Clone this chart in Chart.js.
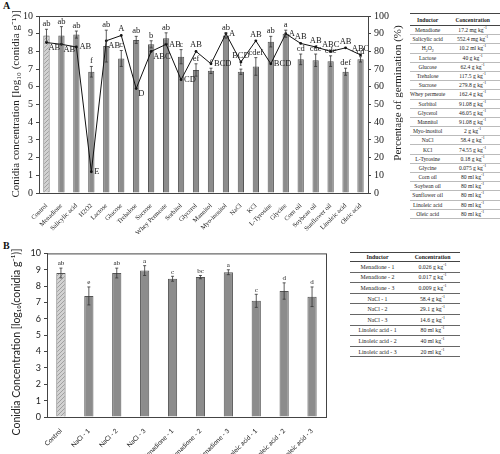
<!DOCTYPE html>
<html>
<head>
<meta charset="utf-8">
<script src="https://cdn.jsdelivr.net/npm/chart.js@4.4.0/dist/chart.umd.min.js"></script>
<style>
	html, body { margin: 0; padding: 0; background: #fff; }
	body { width: 500px; height: 454px; position: relative; overflow: hidden; }
	canvas { position: absolute; }
	#chart-a { left: 0; top: 0; }
	#chart-b { left: 0; top: 245px; }
	.panel { position: absolute; font: bold 10px "Liberation Serif"; color: #111; }
	table { position: absolute; border-collapse: collapse; font-family: "Liberation Serif"; color: #222; }
	td, th { padding: 0; text-align: center; white-space: nowrap; }
	sup, sub { font-size: 70%; line-height: 0; }
	#table-a { left: 410px; top: 13px; font-size: 5.6px; border-top: 1px solid #444; border-bottom: 1px solid #444; }
	#table-a th { height: 11px; border-bottom: 1px solid #444; }
	#table-a td { height: 8.2px; border-bottom: 0.5px solid #bbb; }
	#table-b { left: 350px; top: 252px; font-size: 5.8px; border-top: 1px solid #444; }
	#table-b th { height: 8px; border-bottom: 1px solid #444; }
	#table-b td { height: 9.6px; border-bottom: 1px solid #666; }
</style>
</head>
<body>
<div class="panel" style="left:3px;top:0px;">A</div>
<div class="panel" style="left:3px;top:240px;">B</div>
<canvas id="chart-a" width="410" height="245"></canvas>
<canvas id="chart-b" width="345" height="209"></canvas>
<table id="table-a"></table>
<table id="table-b"></table>

<script>
	//---------------------------------------------------------
	// Data - panel A
	//---------------------------------------------------------
	const CATEGORIES_A = ["Control", "Menadione", "Salicylic acid", "H2O2", "Lactose", "Glucose", "Trehalose", "Sucrose", "Whey Permeate", "Sorbitol", "Glycerol", "Mannitol", "Myo-inositol", "NaCl", "KCl", "L-Tyrosine", "Glycine", "Corn oil", "Soybean oil", "Sunflower oil", "Linoleic acid", "Oleic acid"];
	const CONIDIA_A = [8.9, 8.9, 8.95, 6.85, 8.3, 7.6, 8.65, 8.4, 8.75, 7.7, 6.95, 6.9, 8.9, 6.85, 7.15, 8.55, 9.0, 7.55, 7.5, 7.45, 6.85, 7.55];
	const CONIDIA_ERR_A = [0.35, 0.5, 0.2, 0.3, 0.9, 0.45, 0.2, 0.2, 0.3, 0.4, 0.35, 0.15, 0.15, 0.15, 0.5, 0.3, 0.2, 0.3, 0.35, 0.3, 0.2, 0.15];
	const LETTERS_A = ["ab", "ab", "ab", "f", "ab", "c", "ab", "b", "ab", "c", "ef", "f", "ab", "f", "cdef", "ab", "a", "cd", "cde", "cde", "def", "cd"];
	const GERMINATION_A = [85, 84, 82.5, 12, 86, 89, 59, 80, 84, 64, 80, 73, 90, 74, 86, 73, 90, 84.5, 82.5, 80, 82, 78];
	const GERM_LETTERS_A = ["AB", "AB", "AB", "E", "AB", "A", "D", "ABC", "AB", "CD", "AB", "BCD", "A", "BCD", "AB", "BCD", "A", "AB", "AB", "ABC", "AB", "ABC"];

	const INDUCTORS_A = ["Menadione", "Salicylic acid", "H<sub>2</sub>O<sub>2</sub>", "Lactose", "Glucose", "Trehalose", "Sucrose", "Whey permeate", "Sorbitol", "Glycerol", "Mannitol", "Myo-inositol", "NaCl", "KCl", "L-Tyrosine", "Glycine", "Corn oil", "Soybean oil", "Sunflower oil", "Linoleic acid", "Oleic acid"];
	const CONCENTRATIONS_A = ["17.2 mg kg", "552.4 mg kg", "10.2 ml kg", "40 g kg", "62.4 g kg", "117.5 g kg", "279.8 g kg", "162.4 g kg", "91.08 g kg", "46.05 g kg", "91.08 g kg", "2 g kg", "58.4 g kg", "74.55 g kg", "0.18 g kg", "0.075 g kg", "80 ml kg", "80 ml kg", "80 ml kg", "80 ml kg", "80 ml kg"];

	//---------------------------------------------------------
	// Data - panel B
	//---------------------------------------------------------
	const CATEGORIES_B = ["Control", "NaCl - 1", "NaCl - 2", "NaCl - 3", "Menadione - 1", "Menadione - 2", "Menadione - 3", "Linoleic acid - 1", "Linoleic acid - 2", "Linoleic acid - 3"];
	const CONIDIA_B = [8.8, 7.4, 8.8, 8.95, 8.45, 8.55, 8.85, 7.1, 7.7, 7.35];
	const CONIDIA_ERR_B = [0.3, 0.55, 0.3, 0.3, 0.15, 0.1, 0.15, 0.4, 0.5, 0.6];
	const LETTERS_B = ["ab", "e", "ab", "a", "c", "bc", "a", "c", "d", "d"];

	const INDUCTORS_B = ["Menadione - 1", "Menadione - 2", "Menadione - 3", "NaCl - 1", "NaCl - 2", "NaCl - 3", "Linoleic acid - 1", "Linoleic acid - 2", "Linoleic acid - 3"];
	const CONCENTRATIONS_B = ["0.026 g kg", "0.017 g kg", "0.009 g kg", "58.4 g kg", "29.1 g kg", "14.6 g kg", "80 ml kg", "40 ml kg", "20 ml kg"];

	// where each germination letter sits relative to its point
	const GERM_LABEL_POS = ["br", "br", "r", "r", "br", "t", "br", "br", "r", "r", "t", "r", "r", "t", "t", "r", "r", "t", "t", "t", "t", "t"];

	//---------------------------------------------------------
	// Styles
	//---------------------------------------------------------
	const SERIF = "Liberation Serif";
	const SANS = "Lato";
	const TXT = "#222";
	const AXIS = "#444";
	const BAR_FILL = "#8c8c8c";
	const BAR_EDGE = "#555";

	const hatch = () => {
		const c = document.createElement("canvas");
		c.width = 4;
		c.height = 4;
		const ctx = c.getContext("2d");
		ctx.fillStyle = "#d2d2d2";
		ctx.fillRect(0, 0, 4, 4);
		ctx.strokeStyle = "#a0a0a0";
		ctx.lineWidth = 1;
		ctx.beginPath();
		ctx.moveTo(0, 4);
		ctx.lineTo(4, 0);
		ctx.stroke();
		return ctx.createPattern(c, "repeat");
	};

	//---------------------------------------------------------
	// Plugins
	//---------------------------------------------------------
	const frame = {
		id: "frame",
		afterDraw(chart) {
			const { ctx, chartArea: a } = chart;
			ctx.save();
			ctx.strokeStyle = AXIS;
			ctx.lineWidth = 1;
			ctx.strokeRect(a.left + 0.5, a.top + 0.5, a.right - a.left, a.bottom - a.top);
			ctx.restore();
		},
	};

	const errorBars = (errors, letters, font) => ({
		id: "errorBars",
		afterDatasetsDraw(chart) {
			const { ctx } = chart;
			const y = chart.scales.y;
			const values = chart.data.datasets[0].data;
			ctx.save();
			ctx.strokeStyle = "#333";
			ctx.lineWidth = 0.8;
			ctx.fillStyle = TXT;
			ctx.font = font;
			ctx.textAlign = "center";
			ctx.textBaseline = "bottom";
			chart.getDatasetMeta(0).data.forEach((bar, i) => {
				const top = y.getPixelForValue(values[i] + errors[i]);
				const bot = y.getPixelForValue(values[i] - errors[i]);
				ctx.beginPath();
				ctx.moveTo(bar.x, top);
				ctx.lineTo(bar.x, bot);
				ctx.moveTo(bar.x - 1.5, top);
				ctx.lineTo(bar.x + 1.5, top);
				ctx.moveTo(bar.x - 1.5, bot);
				ctx.lineTo(bar.x + 1.5, bot);
				ctx.stroke();
				ctx.fillText(letters[i], bar.x, top - 1);
			});
			ctx.restore();
		},
	});

	const lineLabels = {
		id: "lineLabels",
		afterDatasetsDraw(chart) {
			const { ctx } = chart;
			ctx.save();
			ctx.fillStyle = TXT;
			ctx.font = `8.5px "${SERIF}"`;
			chart.getDatasetMeta(1).data.forEach((pt, i) => {
				const pos = GERM_LABEL_POS[i];
				let x = pt.x;
				let y = pt.y;
				if (pos === "t") {
					ctx.textAlign = "center";
					ctx.textBaseline = "bottom";
					y -= 2;
				} else if (pos === "r") {
					ctx.textAlign = "left";
					ctx.textBaseline = "middle";
					x += 3;
				} else {
					ctx.textAlign = "left";
					ctx.textBaseline = "top";
					x += 2;
					y += 1;
				}
				ctx.fillText(GERM_LETTERS_A[i], x, y);
			});
			ctx.restore();
		},
	};

	const axisTitles = (titles) => ({
		id: "axisTitles",
		afterDraw(chart) {
			const { ctx } = chart;
			titles.forEach((t) => {
				ctx.save();
				ctx.translate(t.x, t.y);
				ctx.rotate(-Math.PI / 2);
				ctx.font = t.font;
				ctx.fillStyle = TXT;
				ctx.textAlign = "center";
				ctx.textBaseline = "middle";
				ctx.fillText(t.text, 0, 0);
				ctx.restore();
			});
		},
	});

	const tickFont = (family, size) => ({ font: { family, size }, color: TXT });

	//---------------------------------------------------------
	// Chart A
	//---------------------------------------------------------
	new Chart(document.getElementById("chart-a"), {
		data: {
			labels: CATEGORIES_A,
			datasets: [
				{
					type: "bar",
					data: CONIDIA_A,
					yAxisID: "y",
					backgroundColor: CATEGORIES_A.map((c, i) => (i === 0 ? hatch() : BAR_FILL)),
					borderColor: BAR_EDGE,
					borderWidth: 1,
					barPercentage: 0.42,
					categoryPercentage: 1,
					order: 2,
				},
				{
					type: "line",
					data: GERMINATION_A,
					yAxisID: "y1",
					borderColor: "#111",
					borderWidth: 1,
					pointRadius: 1.4,
					pointBackgroundColor: "#111",
					pointBorderWidth: 0,
					tension: 0,
					order: 1,
				},
			],
		},
		options: {
			responsive: false,
			animation: false,
			devicePixelRatio: 1,
			layout: { padding: { top: 16 } },
			scales: {
				x: {
					grid: { display: false },
					border: { color: AXIS },
					ticks: { ...tickFont(SERIF, 6.5), autoSkip: false, minRotation: 45, maxRotation: 45, padding: 1 },
					afterFit: (s) => { s.height = 52; },
				},
				y: {
					position: "left",
					min: 0,
					max: 10,
					ticks: { ...tickFont(SERIF, 10), stepSize: 1, padding: 3 },
					grid: { drawOnChartArea: false, tickLength: 3, color: AXIS },
					border: { color: AXIS },
					afterFit: (s) => { s.width = 39; },
				},
				y1: {
					position: "right",
					min: 0,
					max: 100,
					ticks: { ...tickFont(SERIF, 10), stepSize: 10, padding: 3 },
					grid: { drawOnChartArea: false, tickLength: 3, color: AXIS },
					border: { color: AXIS },
					afterFit: (s) => { s.width = 42; },
				},
			},
			plugins: {
				legend: { display: false },
				tooltip: { enabled: false },
			},
		},
		plugins: [
			frame,
			errorBars(CONIDIA_ERR_A, LETTERS_A, `8.5px "${SERIF}"`),
			lineLabels,
			axisTitles([
				{ text: "Conidia concentration [log₁₀ (conidia g⁻¹)]", x: 16, y: 104, font: `11px "${SERIF}"` },
				{ text: "Percentage of germination (%)", x: 398, y: 93, font: `11px "${SERIF}"` },
			]),
		],
	});

	//---------------------------------------------------------
	// Chart B
	//---------------------------------------------------------
	new Chart(document.getElementById("chart-b"), {
		type: "bar",
		data: {
			labels: CATEGORIES_B,
			datasets: [
				{
					data: CONIDIA_B,
					backgroundColor: CATEGORIES_B.map((c, i) => (i === 0 ? hatch() : BAR_FILL)),
					borderColor: BAR_EDGE,
					borderWidth: 1,
					barPercentage: 0.33,
					categoryPercentage: 1,
				},
			],
		},
		options: {
			responsive: false,
			animation: false,
			devicePixelRatio: 1,
			layout: { padding: { top: 6, right: 19 } },
			scales: {
				x: {
					grid: { display: false },
					border: { color: AXIS },
					ticks: { ...tickFont(SANS, 6.5), autoSkip: false, minRotation: 45, maxRotation: 45, padding: 2 },
					afterFit: (s) => { s.height = 37; },
				},
				y: {
					min: 0,
					max: 10,
					ticks: { ...tickFont(SANS, 9), stepSize: 1, padding: 3 },
					grid: { drawOnChartArea: false, tickLength: 3, color: AXIS },
					border: { color: AXIS },
					afterFit: (s) => { s.width = 47; },
				},
			},
			plugins: {
				legend: { display: false },
				tooltip: { enabled: false },
			},
		},
		plugins: [
			frame,
			errorBars(CONIDIA_ERR_B, LETTERS_B, `7px "${SERIF}"`),
			axisTitles([
				{ text: "Conidia Concentration [log₁₀(conidia g⁻¹)]", x: 17, y: 97, font: `10.5px "${SANS}"` },
			]),
		],
	});

	//---------------------------------------------------------
	// Tables
	//---------------------------------------------------------
	const buildTable = (id, names, values) => {
		let rows = `<tr><th style="width:${id === "table-a" ? 34 : 55}px">Inductor</th><th style="width:${id === "table-a" ? 56 : 55}px">Concentration</th></tr>`;
		names.forEach((name, i) => {
			rows += `<tr><td>${name}</td><td>${values[i]}<sup>-1</sup></td></tr>`;
		});
		document.getElementById(id).innerHTML = rows;
	};

	buildTable("table-a", INDUCTORS_A, CONCENTRATIONS_A);
	buildTable("table-b", INDUCTORS_B, CONCENTRATIONS_B);
</script>
</body>
</html>
